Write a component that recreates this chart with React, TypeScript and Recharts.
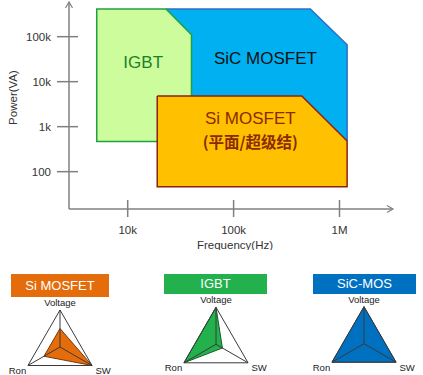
import React from "react";
import {
  Area,
  ComposedChart,
  Label,
  Line,
  PolarAngleAxis,
  PolarGrid,
  PolarRadiusAxis,
  Radar,
  RadarChart,
  ReferenceDot,
  XAxis,
  YAxis,
} from "recharts";

const font = "'Liberation Sans', Arial, sans-serif";
const cjk = "'Noto Sans CJK SC', sans-serif";
const axisGrey = "#808080";

// operating regions: frequency (Hz) vs power (VA)
const sicFreq = [23000, 530000, 1180000];
const sicTop = [413000, 413000, 66000];
const sicBottom = [470, 470, 470];
const sicEdgeFreq = [23000, 530000, 1180000, 1180000];
const sicEdgePower = [413000, 413000, 66000, 480];

const igbtFreq = [5100, 23000, 40000];
const igbtTop = [413000, 413000, 110000];
const igbtBottom = [470, 470, 470];
const igbtEdgeFreq = [19000, 5100, 5100, 23000, 40000, 40000];
const igbtEdgePower = [470, 470, 413000, 413000, 110000, 4800];

const siMosFreq = [19000, 440000, 1180000];
const siMosTop = [4800, 4800, 480];
const siMosBottom = [46, 46, 46];
const siMosEdgeFreq = [19000, 440000, 1180000, 1180000, 19000, 19000];
const siMosEdgePower = [4800, 4800, 480, 46, 46, 4800];

const freqTicks = [10000, 100000, 1000000];
const freqTickLabels = ["10k", "100k", "1M"];
const powerTicks = [100, 1000, 10000, 100000];
const powerTickLabels = ["100", "1k", "10k", "100k"];

// radar scores (0..1), order: Voltage, SW, Ron
const radarAxes = ["Voltage", "SW", "Ron"];
const siMosScores = [0.5, 1, 0.5];
const igbtScores = [1, 0.2, 1];
const sicScores = [1, 1, 1];

const band = (f: number[], top: number[], bottom: number[]) =>
  f.map((v, i) => ({ f: v, band: [bottom[i], top[i]] }));
const edge = (f: number[], p: number[]) => f.map((v, i) => ({ f: v, p: p[i] }));

function XTick({ x, y, payload }: any) {
  const label = freqTickLabels[freqTicks.indexOf(payload.value)];
  return (
    <g>
      <line x1={x} x2={x} y1={y - 9} y2={y + 8} stroke={axisGrey} strokeWidth={1.5} />
      <text x={x} y={y + 25} textAnchor="middle" fontSize={11.5} fontFamily={font} fill="#333">
        {label}
      </text>
    </g>
  );
}

function YTick({ x, y, payload }: any) {
  const label = powerTickLabels[powerTicks.indexOf(payload.value)];
  return (
    <g>
      <line x1={x - 12} x2={x + 9} y1={y} y2={y} stroke={axisGrey} strokeWidth={1.5} />
      <text x={x - 18} y={y + 4} textAnchor="end" fontSize={11.5} fontFamily={font} fill="#333">
        {label}
      </text>
    </g>
  );
}

function RegionChart() {
  return (
    <ComposedChart width={423} height={250} margin={{ top: 2, right: 30, bottom: 0, left: 0 }}>
      <defs>
        <marker
          id="arrow"
          markerWidth={9}
          markerHeight={9}
          refX={7}
          refY={4}
          orient="auto-start-reverse"
          markerUnits="userSpaceOnUse"
        >
          <path d="M1,0.5 L7,4 L1,7.5" fill="none" stroke={axisGrey} strokeWidth={1.2} />
        </marker>
      </defs>
      <XAxis
        type="number"
        dataKey="f"
        scale="log"
        domain={[2790, 3200000]}
        allowDataOverflow
        ticks={freqTicks}
        height={41}
        tickSize={0}
        tickMargin={0}
        tickLine={false}
        axisLine={{ stroke: axisGrey, strokeWidth: 1.5, markerEnd: "url(#arrow)" }}
        tick={<XTick />}
      >
        <Label
          content={({ viewBox }: any) => (
            <text
              x={viewBox.x + 166}
              y={viewBox.y + 36}
              textAnchor="middle"
              dominantBaseline="central"
              fontSize={11.5}
              fontFamily={font}
              fill="#333"
            >
              Frequency(Hz)
            </text>
          )}
        />
      </XAxis>
      <YAxis
        type="number"
        scale="log"
        domain={[14.8, 590000]}
        allowDataOverflow
        ticks={powerTicks}
        width={69}
        tickSize={0}
        tickMargin={0}
        tickLine={false}
        axisLine={{ stroke: axisGrey, strokeWidth: 1.5, markerStart: "url(#arrow)" }}
        tick={<YTick />}
      >
        <Label
          content={({ viewBox }: any) => {
            const x = viewBox.x + 13;
            const y = viewBox.y + 95.5;
            return (
              <text
                x={x}
                y={y}
                transform={`rotate(-90, ${x}, ${y})`}
                textAnchor="middle"
                dominantBaseline="central"
                fontSize={11.5}
                fontFamily={font}
                fill="#333"
              >
                Power(VA)
              </text>
            );
          }}
        />
      </YAxis>

      <Area data={band(sicFreq, sicTop, sicBottom)} dataKey="band" type="linear" fill="#00b0f0" fillOpacity={1} stroke="none" isAnimationActive={false} />
      <Area data={band(igbtFreq, igbtTop, igbtBottom)} dataKey="band" type="linear" fill="#ccfc9c" fillOpacity={1} stroke="none" isAnimationActive={false} />
      <Area data={band(siMosFreq, siMosTop, siMosBottom)} dataKey="band" type="linear" fill="#ffc000" fillOpacity={1} stroke="none" isAnimationActive={false} />

      <Line data={edge(sicEdgeFreq, sicEdgePower)} dataKey="p" type="linear" stroke="#2f6fc4" strokeWidth={1.5} dot={false} activeDot={false} isAnimationActive={false} />
      <Line data={edge(igbtEdgeFreq, igbtEdgePower)} dataKey="p" type="linear" stroke="#1fa043" strokeWidth={1.5} dot={false} activeDot={false} isAnimationActive={false} />
      <Line data={edge(siMosEdgeFreq, siMosEdgePower)} dataKey="p" type="linear" stroke="#8b2212" strokeWidth={1.5} dot={false} activeDot={false} isAnimationActive={false} />

      <ReferenceDot x={14000} y={27000} r={0} label={{ value: "IGBT", position: "center", fill: "#1e7f2a", fontSize: 17, fontFamily: font }} />
      <ReferenceDot x={200000} y={33000} r={0} label={{ value: "SiC MOSFET", position: "center", fill: "#111", fontSize: 17, fontFamily: font }} />
      <ReferenceDot x={144000} y={1600} r={0} label={{ value: "Si MOSFET", position: "center", fill: "#8b2a00", fontSize: 17, fontFamily: font }} />
      <ReferenceDot x={144000} y={450} r={0} label={{ value: "(平面/超级结)", position: "center", fill: "#8b2a00", fontSize: 15.5, fontWeight: "bold", fontFamily: cjk }} />
    </ComposedChart>
  );
}

const R = 37;
const labelOffset: Record<string, [number, number]> = {
  Voltage: [0, -7.5],
  Ron: [-10.5, 5],
  SW: [11, 5],
};

function DeviceRadar({
  cx,
  cy,
  scores,
  fill,
  stroke,
}: {
  cx: number;
  cy: number;
  scores: number[];
  fill: string;
  stroke: string;
}) {
  const data = radarAxes.map((a, i) => ({ axis: a, v: scores[i] }));
  const w = 130;
  const h = 90;
  const top = 290;
  const left = cx - w / 2;
  const lx = w / 2;
  const ly = cy - top;
  const box = { position: "absolute" as const, left, top, width: w, height: h };

  const tick = ({ payload }: any) => {
    const a = (payload.coordinate * Math.PI) / 180;
    const vx = lx + R * Math.cos(a);
    const vy = ly - R * Math.sin(a);
    const [dx, dy] = labelOffset[payload.value] || [0, 0];
    return (
      <text
        x={vx + dx}
        y={vy + dy}
        textAnchor="middle"
        dominantBaseline="central"
        fontSize={9.5}
        fontFamily={font}
        fill="#222"
      >
        {payload.value}
      </text>
    );
  };

  return (
    <>
      <div style={box}>
        <RadarChart width={w} height={h} data={data} cx={lx} cy={ly} outerRadius={R} margin={{ top: 0, right: 0, bottom: 0, left: 0 }}>
          <PolarAngleAxis dataKey="axis" tick={false} tickLine={false} axisLine={false} />
          <PolarRadiusAxis domain={[0, 1]} tick={false} axisLine={false} />
          <Radar dataKey="v" fill={fill} fillOpacity={1} stroke={stroke} strokeWidth={1} dot={false} isAnimationActive={false} />
        </RadarChart>
      </div>
      <div style={box}>
        <RadarChart width={w} height={h} data={data} cx={lx} cy={ly} outerRadius={R} margin={{ top: 0, right: 0, bottom: 0, left: 0 }}>
          <PolarGrid gridType="polygon" polarRadius={[R]} stroke="#3a3a3a" strokeWidth={1} />
          <PolarAngleAxis dataKey="axis" tick={tick} tickLine={false} axisLine={false} />
          <PolarRadiusAxis domain={[0, 1]} tick={false} axisLine={false} />
          <Radar dataKey="v" fill="none" fillOpacity={0} stroke="none" dot={false} isAnimationActive={false} />
        </RadarChart>
      </div>
    </>
  );
}

function Header({ left, width, height, color, text }: { left: number; width: number; height: number; color: string; text: string }) {
  return (
    <div
      style={{
        position: "absolute",
        left,
        top: 274,
        width,
        height,
        background: color,
        color: "#fff",
        fontFamily: font,
        fontSize: 13,
        lineHeight: `${height}px`,
        textAlign: "center",
      }}
    >
      {text}
    </div>
  );
}

export default function App() {
  return (
    <div style={{ position: "absolute", left: 0, top: 0, width: 423, height: 375, background: "#fff", fontFamily: font }}>
      <RegionChart />
      <Header left={11} width={98} height={23} color="#e46c0a" text="Si MOSFET" />
      <Header left={164} width={103} height={19.5} color="#22b14c" text="IGBT" />
      <Header left={313} width={103} height={19.5} color="#0070c0" text="SiC-MOS" />
      <DeviceRadar cx={60} cy={347} scores={siMosScores} fill="#e46c0a" stroke="#7b3a0a" />
      <DeviceRadar cx={216} cy={344.3} scores={igbtScores} fill="#22b14c" stroke="#1a5e2a" />
      <DeviceRadar cx={364} cy={343.7} scores={sicScores} fill="#0070c0" stroke="#1f4e79" />
    </div>
  );
}
